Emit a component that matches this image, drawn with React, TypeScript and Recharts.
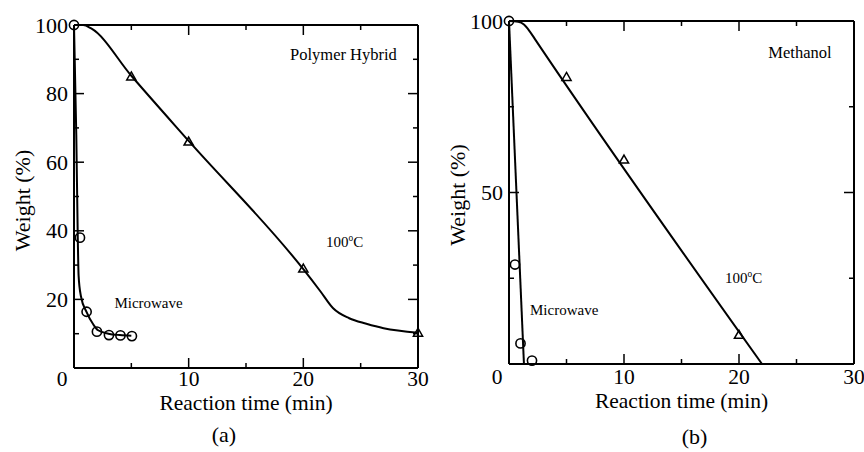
import React from 'react';
import { ComposedChart, Line, Scatter, XAxis, YAxis, ReferenceDot } from 'recharts';

const FONT = "'Liberation Serif', 'Times New Roman', 'DejaVu Serif', serif";

// (a) Polymer Hybrid
const hybridMicrowaveX = [0, 0.52, 1.1, 2.0, 3.05, 4.05, 5.05];
const hybridMicrowaveY = [100, 38, 16.4, 10.6, 9.6, 9.5, 9.3];
const hybridMicrowaveFitX = [0, 0.2, 0.33, 0.4, 0.6, 1.1, 1.7, 2.1, 3, 4, 5];
const hybridMicrowaveFitY = [100, 68, 38, 27, 21, 16.3, 12.6, 11, 10, 9.6, 9.4];
const hybridThermalX = [5, 10, 20, 30];
const hybridThermalY = [85, 66, 29, 10.3];
const hybridThermalFitX = [0, 0.8, 1.5, 5, 10, 20, 21.5, 22.6, 24, 25.5, 27, 30];
const hybridThermalFitY = [100, 100, 99, 85.2, 66.2, 28.8, 22.3, 17.4, 14.5, 12.9, 11.6, 10.3];

// (b) Methanol
const methanolMicrowaveX = [0, 0.52, 1.0, 2.0];
const methanolMicrowaveY = [100, 29, 6, 1];
const methanolMicrowaveFitX = [0, 1.3];
const methanolMicrowaveFitY = [100, 0];
const methanolThermalX = [5, 10, 20];
const methanolThermalY = [83.7, 59.6, 8.5];
const methanolThermalFitX = [0, 0.8, 1.3, 1.8, 2.3, 22];
const methanolThermalFitY = [100, 99.8, 99, 97, 94.5, 0];

// axes
const xTicks = [0, 5, 10, 15, 20, 25, 30];
const xMajors = [0, 10, 20, 30];
const hybridYTicks = [0, 10, 20, 30, 40, 50, 60, 70, 80, 90, 100];
const hybridYMajors = [0, 20, 40, 60, 80, 100];
const hybridYLabels = [20, 40, 60, 80, 100];
const methanolYTicks = [0, 25, 50, 75, 100];
const methanolYMajors = [0, 50, 100];
const methanolYLabels = [50, 100];

type Pt = { x: number; y: number };
const zip = (xs: number[], ys: number[]): Pt[] => xs.map((x, i) => ({ x, y: ys[i] }));

type Side = 'bottom' | 'top' | 'left' | 'right';

const txt = (size: number) => ({ fontFamily: FONT, fontSize: size, fill: '#000' });

const makeTick = (side: Side, majors: number[], labels: number[], base = 19) => (props: any) => {
  const { x, y, payload } = props;
  const v = payload.value;
  const len = majors.includes(v) ? 10 : 5;
  const dx = side === 'left' ? len : side === 'right' ? -len : 0;
  const dy = side === 'bottom' ? -len : side === 'top' ? len : 0;
  let label = null;
  if (labels.includes(v)) {
    if (side === 'bottom') {
      label = (
        <text x={x + (v === 0 ? -12 : 0)} y={y + base} textAnchor="middle" style={txt(21.5)}>
          {v}
        </text>
      );
    } else if (side === 'left') {
      label = (
        <text x={x - 6} y={y + 7.5} textAnchor="end" style={txt(22)}>
          {v}
        </text>
      );
    }
  }
  return (
    <g>
      <line x1={x} y1={y} x2={x + dx} y2={y + dy} stroke="#000" strokeWidth={1.5} />
      {label}
    </g>
  );
};

const CircleMark = (p: any) =>
  p.cx == null ? null : <circle cx={p.cx} cy={p.cy} r={4.6} fill="none" stroke="#000" strokeWidth={1.6} />;

const TriangleMark = (p: any) => {
  if (p.cx == null) return null;
  const { cx, cy } = p;
  return (
    <path
      d={`M${cx},${cy - 4.5} L${cx + 4.6},${cy + 3.5} L${cx - 4.6},${cy + 3.5} Z`}
      fill="none"
      stroke="#000"
      strokeWidth={1.5}
    />
  );
};

const XTitle = (props: any) => {
  const { viewBox, titleBase, caption, captionDx, captionBase } = props;
  const cx = viewBox.x + viewBox.width / 2;
  return (
    <g>
      <text x={cx} y={viewBox.y + titleBase} textAnchor="middle" style={txt(21.5)}>
        Reaction time (min)
      </text>
      <text x={cx + captionDx} y={viewBox.y + captionBase} textAnchor="middle" style={txt(22)}>
        {caption}
      </text>
    </g>
  );
};

const YTitle = (props: any) => {
  const { viewBox, tx, dy } = props;
  const x = viewBox.x + tx;
  const y = viewBox.y + viewBox.height / 2 + dy;
  return (
    <text
      x={x}
      y={y}
      transform={`rotate(-90 ${x} ${y})`}
      textAnchor="middle"
      dominantBaseline="central"
      style={txt(22)}
    >
      Weight (%)
    </text>
  );
};

const NoteText = (props: any) => {
  const { viewBox, text, size, sup, tail } = props;
  const x = viewBox.x + viewBox.width / 2;
  const y = viewBox.y + viewBox.height / 2 + size * 0.33;
  return (
    <text x={x} y={y} textAnchor="middle" style={txt(size)}>
      {text}
      {sup ? (
        <tspan dy={-size * 0.4} style={{ fontSize: size * 0.62 }}>
          {sup}
        </tspan>
      ) : null}
      {tail ? <tspan dy={size * 0.4}>{tail}</tspan> : null}
    </text>
  );
};

type Note = { x: number; y: number; text: string; size: number; sup?: string; tail?: string };

type PanelProps = {
  microwave: Pt[];
  microwaveFit: Pt[];
  microwaveCurve: 'monotone' | 'linear';
  thermal: Pt[];
  thermalFit: Pt[];
  yTicks: number[];
  yMajors: number[];
  yLabels: number[];
  margin: { top: number; right: number; left: number; bottom: number };
  yAxisWidth: number;
  xAxisHeight: number;
  notes: Note[];
  caption: string;
  captionDx: number;
  captionBase: number;
  titleBase: number;
  tickBase: number;
  yTitleX: number;
  yTitleDy: number;
};

const Panel = (p: PanelProps) => (
  <ComposedChart width={432} height={452} margin={p.margin} style={{ fontFamily: FONT }}>
    <XAxis
      dataKey="x"
      type="number"
      domain={[0, 30]}
      ticks={xTicks}
      interval={0}
      tickSize={0}
      tickMargin={0}
      tickLine={false}
      axisLine={{ stroke: '#000', strokeWidth: 2 }}
      tick={makeTick('bottom', xMajors, xMajors, p.tickBase)}
      height={p.xAxisHeight}
      label={<XTitle titleBase={p.titleBase} caption={p.caption} captionDx={p.captionDx} captionBase={p.captionBase} />}
    />
    <XAxis
      xAxisId="top"
      orientation="top"
      dataKey="x"
      type="number"
      domain={[0, 30]}
      allowDataOverflow
      ticks={xTicks}
      interval={0}
      tickSize={0}
      tickMargin={0}
      tickLine={false}
      axisLine={{ stroke: '#000', strokeWidth: 2 }}
      tick={makeTick('top', xMajors, [])}
      height={1}
    />
    <YAxis
      type="number"
      domain={[0, 100]}
      ticks={p.yTicks}
      interval={0}
      tickSize={0}
      tickMargin={0}
      tickLine={false}
      axisLine={{ stroke: '#000', strokeWidth: 2 }}
      tick={makeTick('left', p.yMajors, p.yLabels)}
      width={p.yAxisWidth}
      label={<YTitle tx={p.yTitleX} dy={p.yTitleDy} />}
    />
    <YAxis
      yAxisId="right"
      orientation="right"
      type="number"
      domain={[0, 100]}
      allowDataOverflow
      ticks={p.yTicks}
      interval={0}
      tickSize={0}
      tickMargin={0}
      tickLine={false}
      axisLine={{ stroke: '#000', strokeWidth: 2 }}
      tick={makeTick('right', p.yMajors, [])}
      width={1}
    />
    {/* invisible copy bound to the mirrored frame axes so they get a scale */}
    <Line
      data={p.thermalFit}
      dataKey="y"
      xAxisId="top"
      yAxisId="right"
      dot={false}
      activeDot={false}
      stroke="none"
      isAnimationActive={false}
    />
    <Line
      data={p.thermalFit}
      dataKey="y"
      type="monotone"
      dot={false}
      activeDot={false}
      stroke="#000"
      strokeWidth={2}
      isAnimationActive={false}
    />
    <Line
      data={p.microwaveFit}
      dataKey="y"
      type={p.microwaveCurve}
      dot={false}
      activeDot={false}
      stroke="#000"
      strokeWidth={2}
      isAnimationActive={false}
    />
    <Scatter data={p.thermal} dataKey="y" shape={(s: any) => <TriangleMark {...s} />} isAnimationActive={false} />
    <Scatter data={p.microwave} dataKey="y" shape={(s: any) => <CircleMark {...s} />} isAnimationActive={false} />
    {p.notes.map((n, i) => (
      <ReferenceDot
        key={i}
        x={n.x}
        y={n.y}
        r={0}
        fill="none"
        stroke="none"
        label={<NoteText text={n.text} size={n.size} sup={n.sup} tail={n.tail} />}
      />
    ))}
  </ComposedChart>
);

export default function App() {
  return (
    <div
      style={{
        position: 'absolute',
        left: 0,
        top: 0,
        width: 864,
        height: 452,
        display: 'flex',
        background: '#fff',
        fontFamily: FONT,
      }}
    >
      <Panel
        microwave={zip(hybridMicrowaveX, hybridMicrowaveY)}
        microwaveFit={zip(hybridMicrowaveFitX, hybridMicrowaveFitY)}
        microwaveCurve="monotone"
        thermal={zip(hybridThermalX, hybridThermalY)}
        thermalFit={zip(hybridThermalFitX, hybridThermalFitY)}
        yTicks={hybridYTicks}
        yMajors={hybridYMajors}
        yLabels={hybridYLabels}
        margin={{ top: 24, right: 13, left: 0, bottom: 0 }}
        yAxisWidth={74}
        xAxisHeight={84}
        notes={[
          { x: 23.5, y: 91.3, text: 'Polymer Hybrid', size: 16.5 },
          { x: 23.6, y: 36.7, text: '100', sup: 'o', tail: 'C', size: 15 },
          { x: 6.5, y: 19, text: 'Microwave', size: 15 },
        ]}
        caption="(a)"
        captionDx={-22}
        captionBase={74}
        titleBase={42}
        tickBase={18}
        yTitleX={22}
        yTitleDy={4}
      />
      <Panel
        microwave={zip(methanolMicrowaveX, methanolMicrowaveY)}
        microwaveFit={zip(methanolMicrowaveFitX, methanolMicrowaveFitY)}
        microwaveCurve="linear"
        thermal={zip(methanolThermalX, methanolThermalY)}
        thermalFit={zip(methanolThermalFitX, methanolThermalFitY)}
        yTicks={methanolYTicks}
        yMajors={methanolYMajors}
        yLabels={methanolYLabels}
        margin={{ top: 20, right: 9, left: 0, bottom: 0 }}
        yAxisWidth={77}
        xAxisHeight={88}
        notes={[
          { x: 25.3, y: 90.9, text: 'Methanol', size: 16.5 },
          { x: 20.4, y: 25, text: '100', sup: 'o', tail: 'C', size: 15 },
          { x: 4.8, y: 15.6, text: 'Microwave', size: 15 },
        ]}
        caption="(b)"
        captionDx={13}
        captionBase={80}
        titleBase={44}
        tickBase={20}
        yTitleX={25}
        yTitleDy={2.5}
      />
    </div>
  );
}
